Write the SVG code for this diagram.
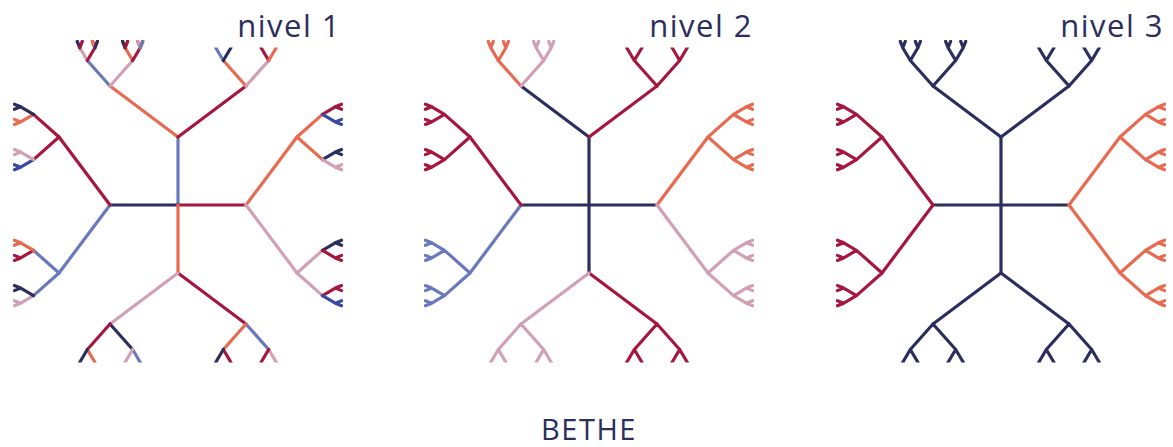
<svg xmlns="http://www.w3.org/2000/svg" xmlns:xlink="http://www.w3.org/1999/xlink" width="1173" height="447" viewBox="0 0 1173 447">
  <style>
    .tree { fill: none; stroke-width: 3.2; stroke-linecap: round; stroke-linejoin: round; }
    .N { stroke: #2c2e5e; }
    .B { stroke: #6a79bd; }
    .O { stroke: #e86a50; }
    .C { stroke: #a6173f; }
    .P { stroke: #d2a0b5; }
    .R { stroke: #3a4aa3; }
    .lbl { font-family: "Open Sans", "Noto Sans", sans-serif; font-size: 31px; fill: #2c2e5e; letter-spacing: 1.5px; }
  </style>
  <defs>
    <!-- square window of each lattice, with the corner under the level label cut away -->
    <clipPath id="frame" clipPathUnits="userSpaceOnUse">
      <path d="M-165 -165H30V-157.4H165V157.6H-165Z"/>
    </clipPath>
    <!-- branch geometry of one quarter, drawn pointing up from the centre -->
    <path id="e1" d="M0 0V-68"/>
    <path id="eA" d="M0 -68L-68 -119"/>
    <path id="eB" d="M0 -68L68 -119"/>
    <path id="eAA" d="M-68 -119L-90.67 -144.5"/>
    <path id="eAB" d="M-68 -119L-45.33 -144.5"/>
    <path id="eBA" d="M68 -119L45.33 -144.5"/>
    <path id="eBB" d="M68 -119L90.67 -144.5"/>
    <!-- outer twigs, relative to a third-level node -->
    <path id="lfL" d="M0 0L-7.56 -12.75L-10.08 -19.13M-7.56 -12.75L-5.04 -19.13"/>
    <path id="lfR" d="M0 0L7.56 -12.75L10.08 -19.13M7.56 -12.75L5.04 -19.13"/>
    <path id="tipL" d="M0 0L-2.52 -6.38"/>
    <path id="tipR" d="M0 0L2.52 -6.38"/>
    <path id="fan3" d="M0 0L-7.56 -12.75L-10.08 -19.13M-7.56 -12.75L-5.04 -19.13M0 0L7.56 -12.75L10.08 -19.13M7.56 -12.75L5.04 -19.13"/>
    <!-- whole branch below a second-level node -->
    <path id="fan2" d="M-22.67 -25.5L0 0L22.67 -25.5M-22.67 -25.5L-30.23 -38.25L-32.75 -44.63M-30.23 -38.25L-27.71 -44.63M-22.67 -25.5L-15.11 -38.25L-12.59 -44.63M-15.11 -38.25L-17.63 -44.63M22.67 -25.5L15.11 -38.25L12.59 -44.63M15.11 -38.25L17.63 -44.63M22.67 -25.5L30.23 -38.25L32.75 -44.63M30.23 -38.25L27.71 -44.63"/>
  </defs>

  <rect width="1173" height="447" fill="#ffffff"/>

  <!-- level 1 -->
  <g id="nivel1" class="tree" transform="translate(178 205)" clip-path="url(#frame)">
    <g id="n1-top">
      <use href="#e1" class="B"/>
      <use href="#eA" class="O"/><use href="#eB" class="C"/>
      <use href="#eAA" class="B"/><use href="#eAB" class="P"/><use href="#eBA" class="O"/><use href="#eBB" class="P"/>
      <use href="#lfL" x="-90.67" y="-144.5" class="P"/><use href="#lfR" x="-90.67" y="-144.5" class="C"/>
      <use href="#lfL" x="-45.33" y="-144.5" class="O"/><use href="#lfR" x="-45.33" y="-144.5" class="C"/>
      <use href="#lfL" x="45.33" y="-144.5" class="B"/><use href="#lfR" x="45.33" y="-144.5" class="N"/>
      <use href="#lfL" x="90.67" y="-144.5" class="C"/><use href="#lfR" x="90.67" y="-144.5" class="O"/>
      <!-- outermost twig tips -->
      <use href="#tipL" x="-98.23" y="-157.25" class="N"/><use href="#tipR" x="-98.23" y="-157.25" class="C"/>
      <use href="#tipL" x="-83.11" y="-157.25" class="O"/><use href="#tipR" x="-83.11" y="-157.25" class="N"/>
      <use href="#tipL" x="-52.89" y="-157.25" class="N"/><use href="#tipR" x="-52.89" y="-157.25" class="C"/>
      <use href="#tipL" x="-37.77" y="-157.25" class="P"/><use href="#tipR" x="-37.77" y="-157.25" class="B"/>
    </g>
    <g id="n1-left" transform="rotate(-90)">
      <use href="#e1" class="N"/>
      <use href="#eA" class="B"/><use href="#eB" class="C"/>
      <use href="#eAA" class="B"/><use href="#eAB" class="B"/><use href="#eBA" class="C"/><use href="#eBB" class="C"/>
      <use href="#lfL" x="-90.67" y="-144.5" class="P"/><use href="#lfR" x="-90.67" y="-144.5" class="N"/>
      <use href="#lfL" x="-45.33" y="-144.5" class="C"/><use href="#lfR" x="-45.33" y="-144.5" class="O"/>
      <use href="#lfL" x="45.33" y="-144.5" class="R"/><use href="#lfR" x="45.33" y="-144.5" class="P"/>
      <use href="#lfL" x="90.67" y="-144.5" class="O"/><use href="#lfR" x="90.67" y="-144.5" class="N"/>
    </g>
    <g id="n1-right" transform="rotate(90)">
      <use href="#e1" class="C"/>
      <use href="#eA" class="O"/><use href="#eB" class="P"/>
      <use href="#eAA" class="O"/><use href="#eAB" class="O"/><use href="#eBA" class="P"/><use href="#eBB" class="P"/>
      <use href="#lfL" x="-90.67" y="-144.5" class="C"/><use href="#lfR" x="-90.67" y="-144.5" class="R"/>
      <use href="#lfL" x="-45.33" y="-144.5" class="N"/><use href="#lfR" x="-45.33" y="-144.5" class="P"/>
      <use href="#lfL" x="45.33" y="-144.5" class="N"/><use href="#lfR" x="45.33" y="-144.5" class="C"/>
      <use href="#lfL" x="90.67" y="-144.5" class="C"/><use href="#lfR" x="90.67" y="-144.5" class="R"/>
    </g>
    <g id="n1-bottom" transform="rotate(180)">
      <use href="#e1" class="O"/>
      <use href="#eA" class="C"/><use href="#eB" class="P"/>
      <use href="#eAA" class="B"/><use href="#eAB" class="O"/><use href="#eBA" class="N"/><use href="#eBB" class="C"/>
      <use href="#lfL" x="-90.67" y="-144.5" class="P"/><use href="#lfR" x="-90.67" y="-144.5" class="C"/>
      <use href="#lfL" x="-45.33" y="-144.5" class="C"/><use href="#lfR" x="-45.33" y="-144.5" class="N"/>
      <use href="#lfL" x="45.33" y="-144.5" class="B"/><use href="#lfR" x="45.33" y="-144.5" class="P"/>
      <use href="#lfL" x="90.67" y="-144.5" class="O"/><use href="#lfR" x="90.67" y="-144.5" class="N"/>
    </g>
  </g>

  <!-- level 2 -->
  <g id="nivel2" class="tree" transform="translate(589 205)" clip-path="url(#frame)">
    <g id="n2-top">
      <use href="#e1" class="N"/>
      <use href="#eA" class="N"/>
      <use href="#eAA" class="O"/><use href="#fan3" x="-90.67" y="-144.5" class="O"/>
      <use href="#eAB" class="P"/><use href="#fan3" x="-45.33" y="-144.5" class="P"/>
      <use href="#eB" class="C"/><use href="#fan2" x="68" y="-119" class="C"/>
    </g>
    <g id="n2-left" transform="rotate(-90)">
      <use href="#e1" class="N"/>
      <use href="#eA" class="B"/><use href="#fan2" x="-68" y="-119" class="B"/>
      <use href="#eB" class="C"/><use href="#fan2" x="68" y="-119" class="C"/>
    </g>
    <g id="n2-right" transform="rotate(90)">
      <use href="#e1" class="N"/>
      <use href="#eA" class="O"/><use href="#fan2" x="-68" y="-119" class="O"/>
      <use href="#eB" class="P"/><use href="#fan2" x="68" y="-119" class="P"/>
    </g>
    <g id="n2-bottom" transform="rotate(180)">
      <use href="#e1" class="N"/>
      <use href="#eA" class="C"/><use href="#fan2" x="-68" y="-119" class="C"/>
      <use href="#eB" class="P"/><use href="#fan2" x="68" y="-119" class="P"/>
    </g>
  </g>

  <!-- level 3 -->
  <g id="nivel3" class="tree" transform="translate(1001 205)" clip-path="url(#frame)">
    <g id="n3-top">
      <use href="#e1" class="N"/>
      <use href="#eA" class="N"/><use href="#fan2" x="-68" y="-119" class="N"/>
      <use href="#eB" class="N"/><use href="#fan2" x="68" y="-119" class="N"/>
    </g>
    <g id="n3-left" transform="rotate(-90)">
      <use href="#e1" class="N"/>
      <use href="#eA" class="C"/><use href="#fan2" x="-68" y="-119" class="C"/>
      <use href="#eB" class="C"/><use href="#fan2" x="68" y="-119" class="C"/>
    </g>
    <g id="n3-right" transform="rotate(90)">
      <use href="#e1" class="N"/>
      <use href="#eA" class="O"/><use href="#fan2" x="-68" y="-119" class="O"/>
      <use href="#eB" class="O"/><use href="#fan2" x="68" y="-119" class="O"/>
    </g>
    <g id="n3-bottom" transform="rotate(180)">
      <use href="#e1" class="N"/>
      <use href="#eA" class="N"/><use href="#fan2" x="-68" y="-119" class="N"/>
      <use href="#eB" class="N"/><use href="#fan2" x="68" y="-119" class="N"/>
    </g>
  </g>

  <!-- labels -->
  <text class="lbl" x="341" y="37" text-anchor="end">nivel 1</text>
  <text class="lbl" x="753" y="37" text-anchor="end">nivel 2</text>
  <text class="lbl" x="1164" y="37" text-anchor="end">nivel 3</text>
  <text class="lbl" x="589" y="440" text-anchor="middle" style="font-size:29px">BETHE</text>
</svg>
